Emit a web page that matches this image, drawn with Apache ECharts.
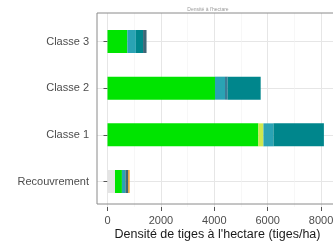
<!DOCTYPE html>
<html><head><meta charset="utf-8">
<script src="https://cdn.jsdelivr.net/npm/echarts@6/dist/echarts.min.js"></script>
<style>html,body{margin:0;padding:0;background:#fff;overflow:hidden;width:333px;height:246px}#c{width:345px;height:246px}</style>
</head><body><div id="c"></div>
<script>
const categories = ['Recouvrement','Classe 1','Classe 2','Classe 3'];
const xTicks = [0,2000,4000,6000,8000];
const pale      = [280,   0,    0,   0];
const green     = [260,5650, 4026, 742];
const yellow    = [0,   190,    0,   0];
const lightTeal = [130, 375,  375, 320];
const steel     = [0,     0,  100,   0];
const darkTeal  = [0,  1890, 1236, 270];
const slate     = [100,   0,    0, 130];
const orange    = [60,    0,    0,   0];

const seriesDefs = [
  ['pale', pale, '#e4e4e4'],
  ['green', green, '#00e400'],
  ['yellow', yellow, '#cde84e'],
  ['lightTeal', lightTeal, '#2aa3b4'],
  ['steel', steel, '#3a7b95'],
  ['darkTeal', darkTeal, '#00868c'],
  ['slate', slate, '#3e6676'],
  ['orange', orange, '#e8a23c']
];

const pxPerUnit = 0.0267;
const zeroX = 107.5, panelL = 97, panelR = 338, W = 345;
const xMax = (panelR - zeroX) / pxPerUnit;
const xMin = -(zeroX - panelL) / pxPerUnit;
const band = 46.67, firstC = 41.5;

const chart = echarts.init(document.getElementById('c'), null, {renderer:'canvas'});
chart.setOption({
  animation:false,
  backgroundColor:'#fff',
  title:{text:"Densité à l'hectare", left:203, top:2, textAlign:'center',
    textStyle:{fontSize:5, color:'#9a9a9a', fontWeight:'normal', fontFamily:'Liberation Sans'}},
  grid:[
    {left:panelL, right:W-panelR, top:13, bottom:39, show:true, borderColor:'#8a8a8a', borderWidth:1, backgroundColor:'transparent', z:5},
    {left:zeroX, right:W-panelR, top:13, bottom:39},
    {left:panelL, right:W-panelR, top:firstC, bottom:246-(firstC+3*band)},
    {left:panelL, right:W-panelR, top:firstC-band/2, bottom:246-(firstC+3*band+band/2)}
  ],
  xAxis:[
    {gridIndex:0, type:'value', min:0, max:1, axisLine:{show:false}, axisTick:{show:false}, axisLabel:{show:false}, splitLine:{show:false},
     name:"Densité de tiges à l'hectare (tiges/ha)", nameLocation:'middle', nameGap:24,
     nameTextStyle:{fontSize:12.5, color:'#1a1a1a', fontFamily:'Liberation Sans'}},
    {gridIndex:1, type:'value', min:0, max:xMax, interval:2000,
     axisLine:{show:false}, axisTick:{show:true, length:4, lineStyle:{color:'#555'}},
     axisLabel:{fontSize:11, color:'#4d4d4d', margin:8, fontFamily:'Liberation Sans',
       formatter:v=> xTicks.includes(v) ? String(v) : ''},
     splitLine:{show:true, lineStyle:{color:'#e6e6e6', width:1}},
     minorTick:{show:false, splitNumber:2},
     minorSplitLine:{show:true, lineStyle:{color:'#f2f2f2', width:0.6}}},
    {gridIndex:2, type:'value', min:0, max:1, show:false},
    {gridIndex:3, type:'value', min:xMin, max:xMax, show:false}
  ],
  yAxis:[
    {gridIndex:0, type:'value', show:false},
    {gridIndex:1, type:'value', show:false},
    {gridIndex:2, type:'category', data:categories, boundaryGap:false,
     axisLine:{show:false}, axisTick:{show:false}, axisLabel:{show:false},
     splitLine:{show:true, lineStyle:{color:'#e6e6e6', width:1}}},
    {gridIndex:3, type:'category', data:categories,
     axisLine:{show:false}, axisTick:{show:true, alignWithLabel:true, length:4, lineStyle:{color:'#555'}},
     axisLabel:{fontSize:11, color:'#4d4d4d', margin:8, fontFamily:'Liberation Sans'},
     splitLine:{show:false}}
  ],
  series: seriesDefs.map(([name, data, color]) => ({
    name, type:'bar', stack:'total', xAxisIndex:3, yAxisIndex:3,
    data, barWidth:23, itemStyle:{color}, emphasis:{disabled:true}
  }))
});
</script></body></html>
